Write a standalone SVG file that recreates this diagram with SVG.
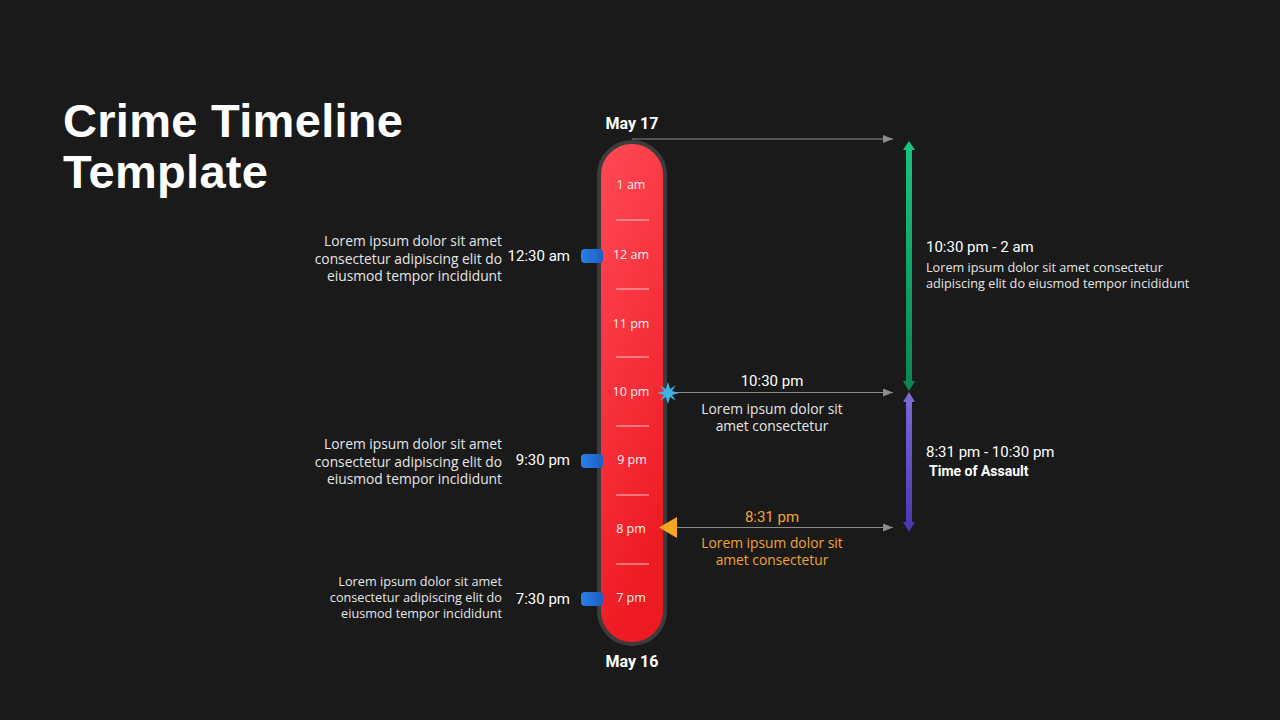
<svg xmlns="http://www.w3.org/2000/svg" width="1280" height="720" viewBox="0 0 1280 720">
<defs>
<linearGradient id="tubeG" x1="0" y1="0" x2="0.3" y2="1">
<stop offset="0" stop-color="#ff4a57"/>
<stop offset="1" stop-color="#ee1a22"/>
</linearGradient>
<linearGradient id="blueG" x1="0" y1="0" x2="1" y2="0">
<stop offset="0" stop-color="#2a7fe6"/>
<stop offset="1" stop-color="#1b5fc4"/>
</linearGradient>
<linearGradient id="greenG" x1="0" y1="0" x2="0" y2="1">
<stop offset="0" stop-color="#19c483"/>
<stop offset="1" stop-color="#0b8650"/>
</linearGradient>
<linearGradient id="purpleG" x1="0" y1="0" x2="0" y2="1">
<stop offset="0" stop-color="#7e6ad8"/>
<stop offset="1" stop-color="#4a35b0"/>
</linearGradient>
<marker id="ah" viewBox="0 0 10 8" refX="10" refY="4" markerWidth="10" markerHeight="8" markerUnits="userSpaceOnUse" orient="auto">
<path d="M0,0 L10,4 L0,8 Z" fill="#8c8c8c"/>
</marker>
<style>
.title{font-family:"Liberation Sans",Arial,sans-serif;font-weight:bold;font-size:47px;fill:#ffffff;letter-spacing:0.3px}
.date{font-family:Roboto,"Liberation Sans",sans-serif;font-weight:bold;font-size:16px;fill:#ffffff}
.hour{font-family:"Open Sans","Liberation Sans",sans-serif;font-size:12.5px;fill:#fff0f0;text-anchor:middle}
.time{font-family:Roboto,"Liberation Sans",sans-serif;font-size:15px;fill:#ffffff}
.desc{font-family:"Open Sans","Liberation Sans",sans-serif;font-size:13.8px;fill:#e6e6e6}
.desc12{font-family:"Open Sans","Liberation Sans",sans-serif;font-size:12.7px;fill:#e6e6e6}
.orange{fill:#f0a435}
.bold{font-family:Roboto,"Liberation Sans",sans-serif;font-weight:bold;font-size:14px;fill:#ffffff}
.tick{stroke:#ffc4c8;stroke-width:1.2}
.conn{stroke:#8c8c8c;stroke-width:1;fill:none}
.marker{fill:url(#blueG)}
</style>
</defs>
<rect width="1280" height="720" fill="#1a1a1a"/>

<g id="title">
<text class="title" x="63" y="137">Crime Timeline</text>
<text class="title" x="63" y="188">Template</text>
</g>

<g id="connectors">
<line class="conn" x1="632" y1="139" x2="893" y2="139" marker-end="url(#ah)"/>
<line class="conn" x1="670" y1="392.5" x2="893" y2="392.5" marker-end="url(#ah)"/>
<line class="conn" x1="676" y1="527.5" x2="893" y2="527.5" marker-end="url(#ah)"/>
</g>

<g id="tube">
<rect x="599" y="142" width="66" height="502" rx="33" ry="33" fill="url(#tubeG)" stroke="#3c3c3c" stroke-width="4"/>
<g class="ticks">
<line class="tick" x1="616" y1="220" x2="649" y2="220"/>
<line class="tick" x1="616" y1="289" x2="649" y2="289"/>
<line class="tick" x1="616" y1="357" x2="649" y2="357"/>
<line class="tick" x1="616" y1="426" x2="649" y2="426"/>
<line class="tick" x1="616" y1="495" x2="649" y2="495"/>
<line class="tick" x1="616" y1="564" x2="649" y2="564"/>
</g>
<text class="hour" x="631" y="189">1 am</text>
<text class="hour" x="631" y="259">12 am</text>
<text class="hour" x="631" y="328">11 pm</text>
<text class="hour" x="631" y="396">10 pm</text>
<text class="hour" x="632" y="464">9 pm</text>
<text class="hour" x="631" y="533">8 pm</text>
<text class="hour" x="631" y="602">7 pm</text>
</g>

<g id="date-may17"><text class="date" x="632" y="129" text-anchor="middle">May 17</text></g>
<g id="date-may16"><text class="date" x="632" y="667" text-anchor="middle">May 16</text></g>

<g id="event-1230am">
<rect class="marker" x="581" y="249" width="22" height="14" rx="4"/>
<text class="time" x="570" y="261" text-anchor="end">12:30 am</text>
<text class="desc" text-anchor="end"><tspan x="502" y="246">Lorem ipsum dolor sit amet</tspan><tspan x="502" y="264">consectetur adipiscing elit do</tspan><tspan x="502" y="281">eiusmod tempor incididunt</tspan></text>
</g>

<g id="event-930pm">
<rect class="marker" x="581" y="454" width="22" height="14" rx="4"/>
<text class="time" x="570" y="465" text-anchor="end">9:30 pm</text>
<text class="desc" text-anchor="end"><tspan x="502" y="449">Lorem ipsum dolor sit amet</tspan><tspan x="502" y="467">consectetur adipiscing elit do</tspan><tspan x="502" y="484">eiusmod tempor incididunt</tspan></text>
</g>

<g id="event-730pm">
<rect class="marker" x="581" y="592" width="22" height="14" rx="4"/>
<text class="time" x="570" y="604" text-anchor="end">7:30 pm</text>
<text class="desc12" text-anchor="end"><tspan x="502" y="586">Lorem ipsum dolor sit amet</tspan><tspan x="502" y="602">consectetur adipiscing elit do</tspan><tspan x="502" y="618">eiusmod tempor incididunt</tspan></text>
</g>

<g id="event-1030pm">
<polygon fill="#3db3e3" points="668,382 670.1,388.9 675.8,385.2 672.1,390.9 679,393 672.1,395.1 675.8,400.8 670.1,397.1 668,404 665.9,397.1 660.2,400.8 663.9,395.1 657,393 663.9,390.9 660.2,385.2 665.9,388.9"/>
<text class="time" x="772" y="386" text-anchor="middle">10:30 pm</text>
<text class="desc" text-anchor="middle"><tspan x="772" y="414">Lorem ipsum dolor sit</tspan><tspan x="772" y="431">amet consectetur</tspan></text>
</g>

<g id="event-831pm">
<polygon fill="#f5a623" points="659,527.5 677,517 677,538"/>
<text class="time orange" x="772" y="522" text-anchor="middle">8:31 pm</text>
<text class="desc orange" text-anchor="middle"><tspan x="772" y="548">Lorem ipsum dolor sit</tspan><tspan x="772" y="565">amet consectetur</tspan></text>
</g>

<g id="range-green">
<path fill="url(#greenG)" d="M909,141 L915,150 L912,150 L912,381 L915,381 L909,391 L903,381 L906,381 L906,150 L903,150 Z"/>
<text class="time" x="926" y="252">10:30 pm - 2 am</text>
<text class="desc12"><tspan x="926" y="272">Lorem ipsum dolor sit amet consectetur</tspan><tspan x="926" y="288">adipiscing elit  do eiusmod tempor incididunt</tspan></text>
</g>

<g id="range-purple">
<path fill="url(#purpleG)" d="M909,392 L915,402 L912,402 L912,522 L915,522 L909,532 L903,522 L906,522 L906,402 L903,402 Z"/>
<text class="time" x="926" y="457">8:31 pm - 10:30 pm</text>
<text class="bold" x="929" y="476">Time of Assault</text>
</g>
</svg>
